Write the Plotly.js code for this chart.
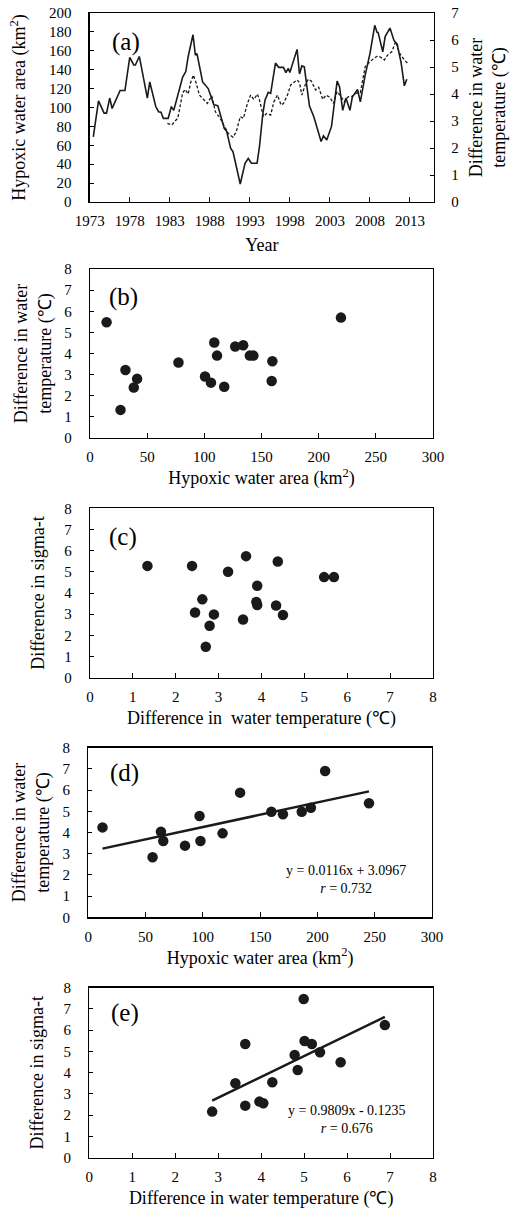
<!DOCTYPE html>
<html>
<head>
<meta charset="utf-8">
<script src="https://cdn.plot.ly/plotly-3.0.1.min.js"></script>
<style>html,body{margin:0;padding:0;background:#fff;}#chart{width:510px;height:1214px;}</style>
</head>
<body>
<div id="chart"></div>
<script>
// ---------- Panel (a): time series ----------
const areaYears = [1973.45,1974.1,1974.8,1975.1,1975.5,1975.8,1976.8,1977.4,1978.0,1978.5,1978.7,1979.2,1980.2,1980.5,1981.25,1981.6,1981.9,1982.2,1982.8,1983.2,1983.5,1984.6,1985.0,1985.3,1985.9,1986.2,1986.4,1987.1,1987.8,1988.5,1989.0,1989.8,1990.1,1990.6,1990.9,1991.8,1992.4,1992.8,1993.2,1993.9,1994.2,1994.6,1994.9,1995.3,1995.6,1996.2,1996.6,1997.2,1997.5,1997.8,1998.0,1998.9,1999.2,1999.5,1999.8,2000.45,2001.0,2001.9,2002.2,2002.6,2003.2,2003.9,2004.2,2004.6,2005.0,2005.5,2005.8,2006.45,2006.8,2007.4,2008.0,2008.6,2008.9,2009.0,2009.6,2009.9,2010.5,2011.0,2011.4,2011.9,2012.3,2012.6];
const areaValues = [69,107,94,94,110,99,118,118,153,145,145,154,110,127,101,95.5,95,88.5,88.5,101,97,132,138,154,177,155.5,157,127,120,103,102,78,75,57,53,19,41,46,41,41,58.5,92,108,116,115,147,142.5,142.5,137,141.5,137,161.5,135.5,144,143,101.5,90,64,70,65.5,80,128,122,97,110,97,111,119,106,134,157,187,179,180,159,175,184,171,167,147,123,130];
const tempYears = [1982.7,1983.25,1983.7,1984.0,1984.6,1984.9,1985.3,1985.6,1985.95,1986.3,1986.7,1987.1,1987.7,1988.25,1988.7,1989.3,1989.9,1990.3,1990.9,1991.3,1991.8,1992.2,1992.7,1993.1,1993.5,1993.95,1994.2,1994.7,1995.1,1995.6,1996.0,1996.45,1996.9,1997.2,1997.7,1998.1,1998.45,1998.9,1999.2,1999.5,1999.9,2000.3,2000.7,2001.2,2001.6,2002.1,2002.5,2003.0,2003.45,2003.9,2004.4,2004.8,2005.3,2005.75,2006.3,2006.8,2007.4,2007.8,2008.5,2008.95,2009.3,2009.8,2010.2,2010.75,2011.2,2011.7,2012.3,2012.8];
const tempValues = [2.91,2.85,3.01,3.1,4.03,4.17,4.0,4.42,4.7,4.4,3.96,3.84,3.65,3.93,3.34,3.1,2.73,2.54,2.4,2.6,3.16,3.1,3.65,3.96,3.8,4.0,3.78,3.16,3.28,3.22,3.71,3.96,3.59,3.65,3.96,4.33,4.42,4.52,4.42,3.96,4.33,4.55,4.47,4.15,4.25,3.8,3.96,3.88,3.65,4.09,3.9,3.71,3.9,3.91,4.03,4.05,5.01,5.14,5.32,5.41,5.37,5.26,5.44,5.57,5.94,5.51,5.26,5.11];
const yearTicks = [1973,1978,1983,1988,1993,1998,2003,2008,2013];

// ---------- Panel (b) ----------
const bArea = [14.5,26.7,31,38.3,41.2,77.4,100.6,105.8,108.7,111.1,117.4,127,134,139.8,142.9,159.5,158.9,219.5];
const bTemp = [5.48,1.33,3.22,2.39,2.8,3.57,2.91,2.62,4.52,3.9,2.43,4.33,4.39,3.9,3.9,3.63,2.7,5.7];

// ---------- Panel (c) ----------
const cTemp  = [1.34,2.38,2.45,2.62,2.7,2.79,2.89,3.22,3.57,3.64,3.9,3.88,3.9,4.34,4.38,4.5,5.46,5.69];
const cSigma = [5.28,5.28,3.08,3.7,1.46,2.45,2.99,5.0,2.75,5.74,4.34,3.58,3.43,3.41,5.49,2.96,4.75,4.75];

// ---------- Panel (d) ----------
const dArea = [12.4,56.1,63.4,65.4,84.4,97.1,97.9,117.2,132.5,159.8,169.9,186.3,194.3,206.7,245];
const dTemp = [4.24,2.83,4.04,3.6,3.38,4.78,3.6,3.96,5.88,4.98,4.86,4.98,5.17,6.9,5.38];
const dSlope = 0.0116, dIntercept = 3.0967;
const dFitText = "y = 0.0116x + 3.0967<br><i>r</i> = 0.732";

// ---------- Panel (e) ----------
const eTemp  = [2.86,3.4,3.63,3.63,3.96,4.05,4.26,4.78,4.85,4.99,5.01,5.18,5.37,5.85,6.88];
const eSigma = [2.17,3.5,5.35,2.45,2.64,2.56,3.55,4.83,4.13,7.47,5.49,5.35,4.96,4.49,6.24];
const eSlope = 0.9809, eIntercept = -0.1235;
const eFitText = "y = 0.9809x - 0.1235<br><i>r</i> = 0.676";

const panelLabels = ["(a)","(b)","(c)","(d)","(e)"];

// ---------- styling helpers ----------
const W = 510, H = 1214;
const FONT = "Liberation Serif, Times New Roman, serif";
const INK = "#1a1a1a";
function dx(a,b){ return [a/W, b/W]; }
function dy(top,bottom){ return [1-bottom/H, 1-top/H]; }
function fitLine(xs, m, c){ const lo=Math.min(...xs), hi=Math.max(...xs); return {x:[lo,hi], y:[m*lo+c, m*hi+c]}; }

const tickFont = {family: FONT, size: 15, color: "#000"};
const titleFont = {family: FONT, size: 18, color: "#000"};
function xax(domain, range, dtick, title, anchor, extra){
  return Object.assign({domain, range, dtick, tick0: range[0], anchor, showline:true, mirror:true, linecolor:"#000", linewidth:1.3,
    ticks:"inside", ticklen:5, tickwidth:1, tickcolor:"#000", showgrid:false, zeroline:false,
    tickfont: tickFont, ticklabelstandoff: 5, title:{text:title, font:titleFont, standoff: 7}}, extra||{});
}
function yax(domain, range, dtick, title, anchor, extra){
  return Object.assign({domain, range, dtick, tick0: 0, anchor, showline:true, mirror:true, linecolor:"#000", linewidth:1.3,
    ticks:"inside", ticklen:4, tickwidth:1, tickcolor:"#000", showgrid:false, zeroline:false,
    tickfont: tickFont, ticklabelstandoff: 14, title:{text:title, font:titleFont, standoff: 8}}, extra||{});
}

const tempTitle = "Difference in water<br>temperature (℃)";
const areaTitle = "Hypoxic water area (km<sup>2</sup>)";
const sigmaTitle = "Difference in sigma-t";

const marker = {color: INK, size: 10.5};
const dFit = fitLine(dArea, dSlope, dIntercept);
const eFit = fitLine(eTemp, eSlope, eIntercept);

const data = [
  {x: areaYears, y: areaValues, type:"scatter", mode:"lines", line:{color:INK, width:1.6}, xaxis:"x", yaxis:"y", name:"Hypoxic water area"},
  {x: tempYears, y: tempValues, type:"scatter", mode:"lines", line:{color:INK, width:1.3, dash:"3px,2px"}, xaxis:"x", yaxis:"y2", name:"Difference in water temperature"},
  {x: bArea, y: bTemp, type:"scatter", mode:"markers", marker, xaxis:"x2", yaxis:"y3"},
  {x: cTemp, y: cSigma, type:"scatter", mode:"markers", marker, xaxis:"x3", yaxis:"y4"},
  {x: dFit.x, y: dFit.y, type:"scatter", mode:"lines", line:{color:INK, width:2.5}, xaxis:"x4", yaxis:"y5"},
  {x: dArea, y: dTemp, type:"scatter", mode:"markers", marker, xaxis:"x4", yaxis:"y5"},
  {x: eFit.x, y: eFit.y, type:"scatter", mode:"lines", line:{color:INK, width:2.5}, xaxis:"x5", yaxis:"y6"},
  {x: eTemp, y: eSigma, type:"scatter", mode:"markers", marker, xaxis:"x5", yaxis:"y6"}
];

const labelPos = [
  {xref:"x domain", yref:"y domain", x:0.058, y:0.847},
  {xref:"x2 domain", yref:"y3 domain", x:0.05, y:0.834},
  {xref:"x3 domain", yref:"y4 domain", x:0.05, y:0.83},
  {xref:"x4 domain", yref:"y5 domain", x:0.056, y:0.85},
  {xref:"x5 domain", yref:"y6 domain", x:0.057, y:0.851}
];
const annotations = panelLabels.map((t,i)=>Object.assign({text:t, showarrow:false, xanchor:"left", yanchor:"middle",
  font:{family:FONT, size:25, color:"#000"}}, labelPos[i]));
annotations.push({text:dFitText, xref:"x4", yref:"y5", x:225, y:1.8, showarrow:false, align:"center", xanchor:"center", yanchor:"middle", font:{family:FONT, size:14, color:"#000"}});
annotations.push({text:eFitText, xref:"x5", yref:"y6", x:6.0, y:1.8, showarrow:false, align:"center", xanchor:"center", yanchor:"middle", font:{family:FONT, size:14, color:"#000"}});

const layout = {
  width: W, height: H, margin:{l:0,r:0,t:0,b:0}, showlegend:false,
  paper_bgcolor:"#fff", plot_bgcolor:"#fff", font:{family:FONT, color:"#000"},
  xaxis:  xax(dx(89.7,434), [1973,2016], 5, "Year", "y", {tickvals: yearTicks, title:{text:"Year", font:titleFont, standoff: 10}}),
  yaxis:  yax(dy(13,202), [0,200], 20, areaTitle, "x", {title:{text:areaTitle, font:titleFont, standoff: 18}}),
  yaxis2: yax(dy(13,202), [0,7], 1, tempTitle, "x", {overlaying:"y", side:"right", ticklabelstandoff: 13, title:{text:tempTitle, font:titleFont, standoff: 14}}),
  xaxis2: xax(dx(90,433), [0,300], 50, areaTitle, "y3"),
  yaxis3: yax(dy(269,438), [0,8], 1, tempTitle, "x2"),
  xaxis3: xax(dx(90,433), [0,8], 1, "Difference in \u00a0water temperature (℃)", "y4"),
  yaxis4: yax(dy(508.3,677.7), [0,8], 1, sigmaTitle, "x3", {title:{text:sigmaTitle, font:titleFont, standoff: 15}}),
  xaxis4: xax(dx(88.3,432), [0,300], 50, areaTitle, "y5"),
  yaxis5: yax(dy(747.7,917.3), [0,8], 1, tempTitle, "x4"),
  xaxis5: xax(dx(89.3,433), [0,8], 1, "Difference in water temperature (℃)", "y6"),
  yaxis6: yax(dy(987.7,1157.7), [0,8], 1, sigmaTitle, "x5", {title:{text:sigmaTitle, font:titleFont, standoff: 15}}),
  annotations
};

Plotly.newPlot("chart", data, layout, {staticPlot:true, displayModeBar:false});
</script>
</body>
</html>
